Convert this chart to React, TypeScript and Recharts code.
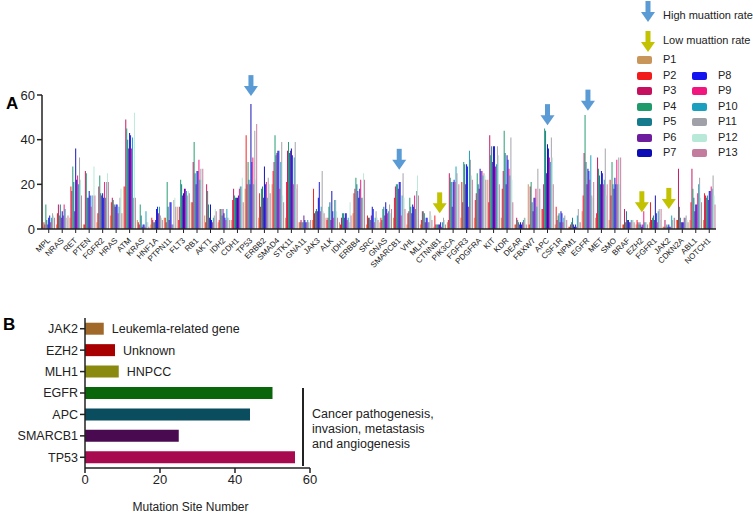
import React from 'react';
import {
  BarChart,
  Bar,
  XAxis,
  YAxis,
  ReferenceDot,
  LabelList,
  Cell,
} from 'recharts';

const FONT = '"Liberation Sans", Arial, sans-serif';

// Panel A: genes on the x axis
const genes = [
  'MPL', 'NRAS', 'RET', 'PTEN', 'FGFR2', 'HRAS', 'ATM', 'KRAS', 'HNF1A', 'PTPN11',
  'FLT3', 'RB1', 'AKT1', 'IDH2', 'CDH1', 'TP53', 'ERBB2', 'SMAD4', 'STK11', 'GNA11',
  'JAK3', 'ALK', 'IDH1', 'ERBB4', 'SRC', 'GNAS', 'SMARCB1', 'VHL', 'MLH1', 'CTNNB1',
  'PIK3CA', 'FGFR3', 'PDGFRA', 'KIT', 'KDR', 'DEAR', 'FBXW7', 'APC', 'CSF1R', 'NPM1',
  'EGFR', 'MET', 'SMO', 'BRAF', 'EZH2', 'FGFR1', 'JAK2', 'CDKN2A', 'ABL1', 'NOTCH1',
];

// mutation counts per patient, one value per gene (same order as genes)
const P1 = [1, 2, 5, 2, 3, 6, 19, 4, 2, 5, 10, 12, 6, 3, 4, 18, 5, 20, 5, 3, 4, 5, 3, 7, 2, 3, 5, 2, 2, 1, 3, 5, 5, 22, 5, 2, 20, 9, 2, 1, 8, 5, 4, 2, 2, 3, 1, 4, 4, 4];
const P2 = [3, 7, 19, 2, 7, 12, 19, 3, 5, 5, 4, 12, 3, 4, 13, 42, 16, 26, 21, 3, 18, 4, 2, 16, 6, 5, 14, 7, 4, 6, 4, 21, 13, 12, 18, 2, 2, 9, 10, 1, 15, 7, 22, 2, 4, 12, 1, 4, 12, 16];
const P3 = [2, 11, 17, 26, 19, 14, 49, 2, 4, 3, 10, 30, 20, 9, 18, 20, 10, 30, 35, 4, 7, 5, 5, 18, 5, 4, 19, 8, 8, 2, 25, 12, 16, 42, 26, 5, 19, 20, 4, 2, 34, 32, 15, 9, 3, 4, 4, 27, 27, 15];
const P4 = [11, 6, 28, 25, 24, 13, 45, 11, 3, 21, 22, 39, 17, 9, 15, 30, 18, 42, 39, 3, 8, 10, 7, 23, 5, 9, 20, 14, 8, 2, 23, 30, 25, 33, 44, 4, 21, 45, 6, 3, 51, 27, 30, 3, 2, 5, 1, 10, 18, 14];
const P5 = [4, 11, 21, 14, 16, 11, 40, 6, 3, 10, 20, 25, 11, 6, 14, 22, 19, 33, 34, 3, 9, 12, 7, 20, 4, 10, 20, 10, 7, 2, 21, 29, 20, 37, 34, 3, 12, 44, 7, 5, 30, 24, 20, 8, 3, 6, 2, 5, 14, 15];
const P6 = [2, 5, 8, 14, 15, 10, 36, 1, 4, 4, 15, 20, 5, 9, 14, 20, 14, 34, 35, 6, 8, 4, 5, 17, 6, 6, 18, 7, 3, 2, 10, 20, 18, 30, 20, 2, 8, 25, 3, 2, 20, 20, 18, 4, 2, 4, 1, 3, 8, 13];
const P7 = [5, 8, 36, 17, 16, 11, 43, 2, 9, 12, 16, 26, 11, 7, 14, 56, 28, 35, 36, 4, 14, 17, 7, 14, 10, 12, 21, 11, 5, 2, 21, 29, 27, 37, 33, 3, 14, 38, 8, 1, 27, 26, 23, 4, 1, 15, 2, 3, 11, 17];
const P8 = [6, 6, 22, 15, 14, 11, 42, 2, 10, 12, 18, 26, 4, 5, 15, 30, 20, 35, 33, 3, 21, 8, 7, 18, 9, 9, 21, 10, 5, 3, 22, 28, 26, 37, 31, 2, 14, 36, 7, 2, 26, 25, 20, 3, 2, 7, 1, 3, 11, 17];
const P9 = [3, 11, 24, 10, 21, 7, 36, 1, 7, 2, 18, 31, 3, 4, 18, 32, 21, 18, 20, 3, 8, 5, 4, 22, 3, 7, 6, 15, 3, 1, 21, 10, 26, 28, 27, 3, 18, 32, 3, 1, 22, 20, 31, 3, 8, 3, 1, 5, 16, 19];
const P10 = [5, 9, 20, 15, 14, 10, 41, 8, 10, 2, 17, 22, 5, 9, 19, 20, 14, 30, 32, 4, 10, 13, 5, 14, 5, 8, 15, 9, 3, 3, 28, 35, 24, 29, 24, 4, 10, 30, 5, 6, 33, 22, 20, 4, 3, 8, 6, 5, 20, 18];
const P11 = [7, 5, 32, 15, 21, 14, 14, 3, 6, 13, 15, 27, 6, 5, 19, 44, 23, 39, 39, 3, 26, 13, 3, 14, 8, 11, 25, 17, 8, 5, 25, 31, 25, 37, 41, 5, 27, 41, 6, 9, 15, 36, 32, 4, 3, 9, 4, 6, 23, 24];
const P12 = [6, 4, 22, 28, 25, 18, 52, 3, 5, 14, 17, 22, 9, 5, 23, 22, 20, 15, 18, 3, 8, 8, 12, 25, 5, 7, 14, 24, 6, 4, 20, 24, 24, 33, 22, 5, 18, 32, 4, 3, 14, 15, 20, 4, 3, 4, 5, 4, 14, 15];
const P13 = [5, 6, 15, 15, 21, 7, 14, 1, 4, 10, 16, 27, 8, 4, 12, 47, 16, 12, 20, 4, 7, 5, 6, 22, 4, 9, 9, 15, 4, 2, 20, 22, 22, 20, 12, 2, 18, 20, 4, 3, 21, 20, 32, 3, 2, 9, 5, 3, 12, 11];

const patients = ['P1', 'P2', 'P3', 'P4', 'P5', 'P6', 'P7', 'P8', 'P9', 'P10', 'P11', 'P12', 'P13'];
const patientSeries = [P1, P2, P3, P4, P5, P6, P7, P8, P9, P10, P11, P12, P13];
const patientColors = [
  '#C8965A', '#F21B1B', '#C4105E', '#1E9A6C', '#147A8C', '#6C1C9C', '#0C0CB4',
  '#1414F0', '#F0167E', '#1AA0BE', '#A0A0A8', '#B8E8D8', '#C47C9E',
];

// arrows: gene and the value where the arrow tip sits
const highArrowGenes = ['TP53', 'SMARCB1', 'APC', 'EGFR'];
const highArrowTips = [59.5, 26.5, 46.5, 53];
const lowArrowGenes = ['CTNNB1', 'EZH2', 'JAK2'];
const lowArrowTips = [7, 7.5, 9];

const HIGH_BLUE = '#5B9BD5';
const LOW_YELLOW = '#C2C200';

// Panel B
const summaryGenes = ['JAK2', 'EZH2', 'MLH1', 'EGFR', 'APC', 'SMARCB1', 'TP53'];
const summaryCounts = [5, 8, 9, 50, 44, 25, 56];
const summaryNotes = ['Leukemla-related gene', 'Unknown', 'HNPCC', '', '', '', ''];
const summaryColors = ['#A0692A', '#A80000', '#8A8A10', '#0A660A', '#0A4D5E', '#4A0A50', '#A80A50'];

const geneData = genes.map((g, i) => {
  const row: Record<string, string | number> = { gene: g };
  patients.forEach((p, j) => {
    row[p] = patientSeries[j][i];
  });
  return row;
});

const summaryData = summaryGenes.map((g, i) => ({
  gene: g,
  count: summaryCounts[i],
  note: summaryNotes[i],
}));

function DownArrow({ cx, cy, color }: { cx: number; cy: number; color: string }) {
  return (
    <g>
      <rect x={cx - 2.5} y={cy - 21} width={5} height={12} fill={color} />
      <polygon points={`${cx - 7},${cy - 10} ${cx + 7},${cy - 10} ${cx},${cy}`} fill={color} />
    </g>
  );
}

const GeneTick = (props: any) => {
  const { x, y, payload } = props;
  return (
    <text
      x={x + 2}
      y={y + 6}
      transform={`rotate(-45, ${x + 2}, ${y + 6})`}
      textAnchor="end"
      fontSize={8}
      fill="#222"
      fontFamily={FONT}
    >
      {payload.value}
    </text>
  );
};

function PatientLegend() {
  return (
    <div style={{ position: 'absolute', left: 0, top: 0, width: 753, height: 170 }}>
      <svg width={753} height={60} style={{ position: 'absolute', left: 0, top: 0 }}>
        <DownArrow cx={648} cy={22} color={HIGH_BLUE} />
        <DownArrow cx={648} cy={52} color={LOW_YELLOW} />
      </svg>
      <div style={{ position: 'absolute', left: 663, top: 9, fontSize: 11, color: '#222', whiteSpace: 'nowrap' }}>
        High muattion rate
      </div>
      <div style={{ position: 'absolute', left: 663, top: 34, fontSize: 11, color: '#222', whiteSpace: 'nowrap' }}>
        Low muattion rate
      </div>
      {patients.map((p, i) => {
        const col = i < 7 ? 0 : 1;
        const row = i < 7 ? i : i - 6;
        const top = 60 + row * 15.5;
        const sx = col === 0 ? 637 : 692;
        return (
          <React.Fragment key={p}>
            <div
              style={{
                position: 'absolute',
                left: sx,
                top: top - 4,
                width: 15,
                height: 8,
                borderRadius: 2,
                background: patientColors[i],
              }}
            />
            <div
              style={{
                position: 'absolute',
                left: sx + 26,
                top: top - 7,
                fontSize: 11,
                lineHeight: '13px',
                color: '#222',
              }}
            >
              {p}
            </div>
          </React.Fragment>
        );
      })}
    </div>
  );
}

export default function App() {
  return (
    <div
      style={{
        position: 'absolute',
        left: 0,
        top: 0,
        width: 753,
        height: 515,
        background: '#fff',
        fontFamily: FONT,
        overflow: 'hidden',
      }}
    >
      <div style={{ position: 'absolute', left: 6, top: 94, fontSize: 17, fontWeight: 'bold' }}>A</div>
      <div style={{ position: 'absolute', left: 3, top: 315, fontSize: 17, fontWeight: 'bold' }}>B</div>

      {/* Panel A */}
      <div style={{ position: 'absolute', left: 0, top: 0 }}>
        <BarChart
          width={753}
          height={300}
          data={geneData}
          margin={{ top: 95, right: 37, left: 12, bottom: 11 }}
          barCategoryGap={0.5}
          barGap={0}
        >
          <XAxis
            dataKey="gene"
            interval={0}
            height={60}
            tick={<GeneTick />}
            tickSize={4}
            axisLine={{ stroke: '#222', strokeWidth: 1.5 }}
            tickLine={{ stroke: '#222' }}
          />
          <YAxis
            width={30}
            domain={[0, 60]}
            ticks={[0, 20, 40, 60]}
            tickSize={5}
            tick={{ fontSize: 13, fill: '#222', fontFamily: FONT }}
            axisLine={{ stroke: '#222', strokeWidth: 1.5 }}
            tickLine={{ stroke: '#222', strokeWidth: 1.5 }}
          />
          {patients.map((p, i) => (
            <Bar key={p} dataKey={p} fill={patientColors[i]} isAnimationActive={false} />
          ))}
          {highArrowGenes.map((g, i) => (
            <ReferenceDot
              key={'h' + g}
              x={g}
              y={highArrowTips[i]}
              ifOverflow="visible"
              shape={(props: any) => <DownArrow cx={props.cx} cy={props.cy} color={HIGH_BLUE} />}
            />
          ))}
          {lowArrowGenes.map((g, i) => (
            <ReferenceDot
              key={'l' + g}
              x={g}
              y={lowArrowTips[i]}
              ifOverflow="visible"
              shape={(props: any) => <DownArrow cx={props.cx} cy={props.cy} color={LOW_YELLOW} />}
            />
          ))}
        </BarChart>
      </div>

      <PatientLegend />

      {/* Panel B */}
      <div style={{ position: 'absolute', left: 0, top: 300 }}>
        <BarChart
          width={400}
          height={215}
          data={summaryData}
          layout="vertical"
          margin={{ top: 18, right: 90, left: 25, bottom: 17 }}
          barCategoryGap="22%"
        >
          <XAxis
            type="number"
            domain={[0, 60]}
            ticks={[0, 20, 40, 60]}
            height={30}
            tickSize={5}
            tick={{ fontSize: 13, fill: '#222', fontFamily: FONT }}
            axisLine={{ stroke: '#222', strokeWidth: 1.5 }}
            tickLine={{ stroke: '#222', strokeWidth: 1.5 }}
          />
          <YAxis
            type="category"
            dataKey="gene"
            width={60}
            tickSize={5}
            tick={{ fontSize: 12.5, fill: '#222', fontFamily: FONT }}
            axisLine={{ stroke: '#222', strokeWidth: 1.5 }}
            tickLine={{ stroke: '#222', strokeWidth: 1.5 }}
          />
          <Bar dataKey="count" isAnimationActive={false}>
            {summaryData.map((d, i) => (
              <Cell key={d.gene} fill={summaryColors[i]} />
            ))}
            <LabelList
              dataKey="note"
              position="right"
              offset={8}
              style={{ fontSize: 12.5, fill: '#222', fontFamily: FONT }}
            />
          </Bar>
        </BarChart>
      </div>

      {/* bracket for the cancer-related group */}
      <div style={{ position: 'absolute', left: 302, top: 388, width: 1.5, height: 78, background: '#222' }} />
      <div
        style={{
          position: 'absolute',
          left: 312,
          top: 407,
          fontSize: 12.5,
          lineHeight: '15px',
          color: '#222',
        }}
      >
        Cancer pathogenesis,
        <br />
        invasion, metastasis
        <br />
        and angiogenesis
      </div>
      <div
        style={{
          position: 'absolute',
          left: 78,
          width: 225,
          top: 500,
          textAlign: 'center',
          fontSize: 12,
          color: '#222',
        }}
      >
        Mutation Site Number
      </div>
    </div>
  );
}
